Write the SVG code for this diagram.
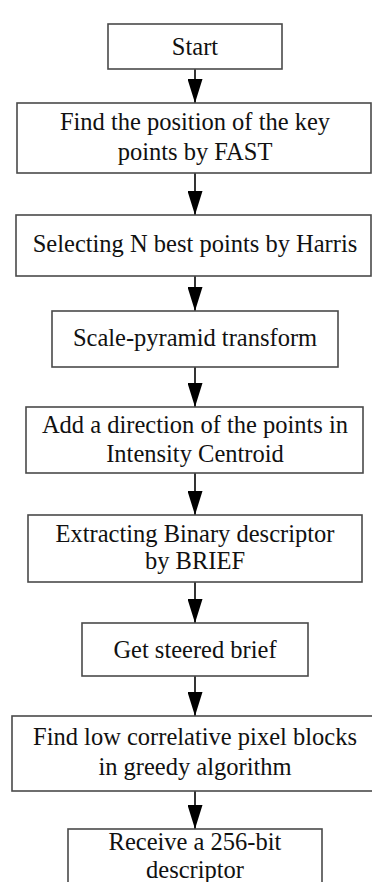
<svg xmlns="http://www.w3.org/2000/svg" width="372" height="882" viewBox="0 0 372 882">
<style>
.box{fill:#fff;stroke:#4a4a4a;stroke-width:1.6}
.t{font-family:"Liberation Serif","Times New Roman",serif;font-size:24.5px;fill:#111;text-anchor:middle}
.c{stroke:#000;stroke-width:1.6;fill:none;marker-end:url(#ah)}
</style>
<defs>
<marker id="ah" viewBox="0 0 24 15" refX="24" refY="7.5" markerWidth="24" markerHeight="15" markerUnits="userSpaceOnUse" orient="auto">
<path d="M0,0 L24,7.5 L0,15 z" fill="#000"/>
</marker>
</defs>
<rect width="372" height="882" fill="#fff"/>
<g id="connectors">
<line class="c" x1="195" y1="69" x2="195" y2="103"/>
<line class="c" x1="195" y1="173" x2="195" y2="215"/>
<line class="c" x1="195" y1="276" x2="195" y2="311"/>
<line class="c" x1="195" y1="367" x2="195" y2="407"/>
<line class="c" x1="195" y1="473" x2="195" y2="515"/>
<line class="c" x1="195" y1="582" x2="195" y2="623"/>
<line class="c" x1="195" y1="676" x2="195" y2="716"/>
<line class="c" x1="195" y1="791" x2="195" y2="829"/>
</g>
<g id="start"><rect class="box" x="108" y="24" width="174" height="45"/><text class="t" x="195" y="55">Start</text></g>
<g id="fast"><rect class="box" x="17" y="103" width="354" height="70"/><text class="t" x="195" y="130">Find the position of the key</text><text class="t" x="195" y="160">points by FAST</text></g>
<g id="harris"><rect class="box" x="16" y="215" width="355" height="61"/><text class="t" x="195" y="252">Selecting N best points by Harris</text></g>
<g id="pyramid"><rect class="box" x="52" y="311" width="286" height="56"/><text class="t" x="195" y="346">Scale-pyramid transform</text></g>
<g id="direction"><rect class="box" x="26" y="407" width="337" height="66"/><text class="t" x="195" y="433">Add a direction of the points in</text><text class="t" x="195" y="462">Intensity Centroid</text></g>
<g id="brief"><rect class="box" x="28" y="515" width="334" height="67"/><text class="t" x="195" y="542">Extracting Binary descriptor</text><text class="t" x="195" y="569">by BRIEF</text></g>
<g id="steered"><rect class="box" x="82" y="623" width="226" height="53"/><text class="t" x="195" y="658">Get steered brief</text></g>
<g id="greedy"><rect class="box" x="12" y="716" width="370" height="75"/><text class="t" x="195" y="745">Find low correlative pixel blocks</text><text class="t" x="195" y="775">in greedy algorithm</text></g>
<g id="receive"><rect class="box" x="68" y="829" width="254" height="70"/><text class="t" x="195" y="850">Receive a 256-bit</text><text class="t" x="195" y="878">descriptor</text></g>
</svg>
